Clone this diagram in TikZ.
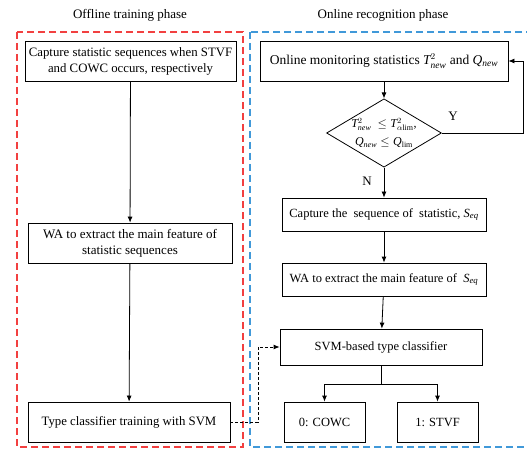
\documentclass[tikz,border=0pt]{standalone}
\usepackage{fontspec}
\setmainfont{Liberation Serif}
\usepackage{amsmath}
\usepackage{amssymb}
\usetikzlibrary{shapes.geometric,arrows.meta}

\definecolor{offred}{rgb}{0.95,0.25,0.25}
\definecolor{onblue}{rgb}{0.25,0.6,0.85}

\tikzset{
    box/.style={draw, line width=0.8pt, inner sep=2pt, align=center},
    phase/.style={line width=1.2pt, dash pattern=on 7pt off 4pt},
    flow/.style={-{Latex[length=6pt,width=5pt]}, line width=0.8pt},
}

\begin{document}
\begin{tikzpicture}[x=1pt, y=-1pt]
    \useasboundingbox (0,0) rectangle (527,449);
    \clip (0,0) rectangle (527,449);

    \node (offtitle) at (130,15) {\fontsize{13}{15}\selectfont Offline training phase};
    \node (ontitle) at (383,15) {\fontsize{13}{15}\selectfont Online recognition phase};

    \draw[phase, offred] (17,32) rectangle (243,447);
    \draw[phase, onblue] (250,32) rectangle (532,447);

    % offline side
    \node[box, minimum width=211pt, minimum height=40pt, font=\fontsize{12.8}{16}\selectfont] (capture) at (130.5,61)
        {Capture statistic sequences when STVF\\and COWC occurs, respectively};
    \node[box, minimum width=204pt, minimum height=40pt, font=\fontsize{13}{16}\selectfont] (offwa) at (130,243)
        {WA to extract the main feature of\\statistic sequences};
    \node[box, minimum width=202pt, minimum height=40pt, font=\fontsize{12.8}{15}\selectfont] (train) at (129,422)
        {Type classifier training with SVM};

    \draw[flow] (capture) -- (offwa);
    \draw[flow] (offwa) -- (train);

    % online side
    \node[box, minimum width=248pt, minimum height=40pt, font=\fontsize{13.5}{15}\selectfont] (monitor) at (384,61)
        {Online monitoring statistics $\mathit{T}^{2}_{\mathit{new}}$ and $\mathit{Q}_{\mathit{new}}$};
    \node[diamond, draw, line width=0.8pt, minimum width=111pt, minimum height=66pt, inner sep=0pt, aspect=1.68,
        font=\fontsize{12}{18}\selectfont, align=center] (check) at (384,133)
        {$\mathit{T}^{2}_{\mathit{new}}\ \le \mathit{T}^{2}_{\alpha\mathrm{lim}}$,\\$\mathit{Q}_{\mathit{new}}\le \mathit{Q}_{\mathrm{lim}}$};
    \node[box, minimum width=204pt, minimum height=33pt, font=\fontsize{12.5}{15}\selectfont] (seq) at (384,214.5)
        {Capture the\ \ sequence of\ \ statistic, $\mathit{S}_{\mathit{eq}}$};
    \node[box, minimum width=204pt, minimum height=33pt, font=\fontsize{12.5}{15}\selectfont] (onwa) at (384,279.5)
        {WA to extract the main feature of\ \ $\mathit{S}_{\mathit{eq}}$};
    \node[box, minimum width=202pt, minimum height=36pt, font=\fontsize{12.5}{15}\selectfont] (svm) at (381,347)
        {SVM-based type classifier};
    \node[box, minimum width=81pt, minimum height=40pt, font=\fontsize{12.5}{15}\selectfont] (cowc) at (324.5,422)
        {0: COWC};
    \node[box, minimum width=81pt, minimum height=40pt, font=\fontsize{12.5}{15}\selectfont] (stvf) at (437.5,422)
        {1: STVF};

    \coordinate (loop) at (523,133);
    \coordinate (split) at (381,384);
    \coordinate (bend) at (258,422);

    \draw[flow] (monitor) -- (check);
    \draw[flow] (check.east) -- (loop) -- (loop |- monitor.east) -- (monitor.east);
    \node (ylabel) at (453,116) {\fontsize{13}{15}\selectfont Y};
    \draw[flow] (check) -- (seq);
    \node (nlabel) at (367,181) {\fontsize{13}{15}\selectfont N};
    \draw[flow] (seq) -- (onwa);
    \draw[flow] (onwa) -- (svm);
    \draw[line width=0.8pt] (svm) -- (split);
    \draw[flow] (split) -| (cowc);
    \draw[flow] (split) -| (stvf);

    \draw[flow, densely dashed] (train.east) -- (bend) -- (bend |- svm.west) -- (svm.west);

\end{tikzpicture}
\end{document}
